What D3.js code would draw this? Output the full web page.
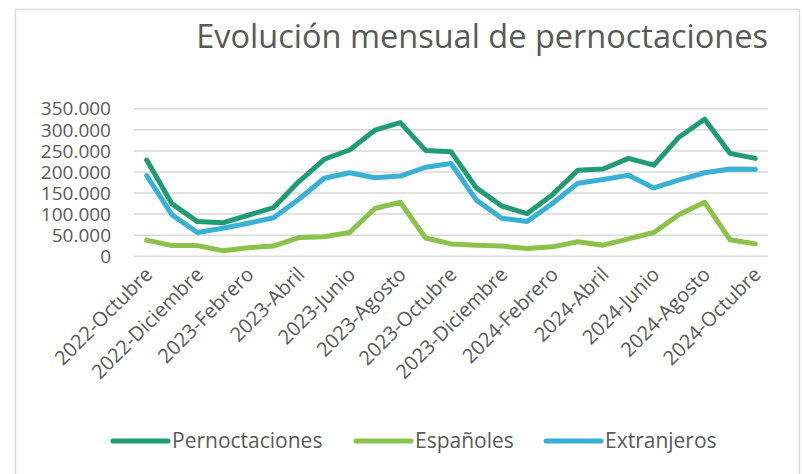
<!DOCTYPE html>
<html>
<head>
<meta charset="utf-8">
<script src="https://cdn.jsdelivr.net/npm/d3@7"></script>
<style>
  body { margin: 0; background: #fff; }
  text { font-family: "Open Sans", Lato, sans-serif; fill: #595959; }
</style>
</head>
<body>
<div id="vis1"></div>
<script>
const months = [
	"2022-Octubre","2022-Noviembre","2022-Diciembre","2023-Enero","2023-Febrero","2023-Marzo",
	"2023-Abril","2023-Mayo","2023-Junio","2023-Julio","2023-Agosto","2023-Septiembre",
	"2023-Octubre","2023-Noviembre","2023-Diciembre","2024-Enero","2024-Febrero","2024-Marzo",
	"2024-Abril","2024-Mayo","2024-Junio","2024-Julio","2024-Agosto","2024-Septiembre","2024-Octubre"
];
const pernoctaciones = [227000,123000,81000,78000,96000,114000,176000,229000,251000,298000,316000,250000,
	247000,161000,118000,100000,145000,203000,206000,231000,215000,282000,324000,243000,231000];
const espanoles = [37000,24000,24000,12000,19000,23000,43000,45000,55000,112000,127000,42000,
	28000,25000,23000,17000,21000,33000,25000,40000,55000,98000,127000,38000,28000];
const extranjeros = [190000,97000,55000,65000,77000,90000,134000,184000,197000,185000,189000,210000,
	219000,132000,89000,81000,124000,172000,181000,191000,161000,180000,197000,206000,205000];
const yTicks = [0,50000,100000,150000,200000,250000,300000,350000];

const series = [
	{name: "Pernoctaciones", values: pernoctaciones, color: "#1f9c74"},
	{name: "Españoles", values: espanoles, color: "#8bc34a"},
	{name: "Extranjeros", values: extranjeros, color: "#39b0d5"}
];

const width = 802, height = 474;
const margin = {top: 108.3, right: 34, bottom: 218.3, left: 134};

const svg = d3.select('#vis1')
	.append('svg')
		.attr("width", width)
		.attr("height", height);

// marco del gráfico
svg.append("rect")
	.attr("x", 15.5).attr("y", 9.5)
	.attr("width", 784).attr("height", 480)
	.attr("fill", "none")
	.attr("stroke", "#d9d9d9")
	.attr("stroke-width", 1.5);

svg.append("text")
	.attr("x", 768).attr("y", 48)
	.attr("text-anchor", "end")
	.style("font-size", "32.5px")
	.text("Evolución mensual de pernoctaciones");

const x = d3.scaleBand()
	.domain(months)
	.range([margin.left, width - margin.right]);

const y = d3.scaleLinear()
	.domain([0, 350000])
	.range([height - margin.bottom, margin.top]);

const fmt = d3.formatLocale({decimal: ",", thousands: ".", grouping: [3], currency: ["", "€"]}).format(",");

// rejilla y eje Y
const yAxis = svg.append("g")
	.attr("transform", `translate(${margin.left},0)`)
	.call(d3.axisLeft(y).tickValues(yTicks).tickFormat(fmt).tickSize(-(width - margin.left - margin.right)).tickPadding(23));
yAxis.select(".domain").remove();
yAxis.selectAll(".tick line").attr("stroke", "#d9d9d9").attr("stroke-width", 1.5);
yAxis.selectAll(".tick text")
	.style("font-size", "19px")
	.attr("fill", "#595959")
	.attr("dy", "0.35em");

// eje X
const xAxis = svg.append("g")
	.attr("transform", `translate(0,${height - margin.bottom})`)
	.call(d3.axisBottom(x).tickValues(months.filter((d, i) => i % 2 === 0)).tickSize(0));
xAxis.select(".domain").remove();
xAxis.selectAll(".tick text")
	.style("font-size", "20px")
	.attr("fill", "#595959")
	.attr("text-anchor", "end")
	.attr("dy", null)
	.attr("y", 0)
	.attr("transform", "translate(7,20)rotate(-45)");

const line = d3.line()
	.x((d, i) => x(months[i]) + x.bandwidth() / 2)
	.y(d => y(d));

svg.selectAll(".serie")
	.data(series)
	.join("path")
		.attr("class", "serie")
		.attr("d", d => line(d.values))
		.attr("fill", "none")
		.attr("stroke", d => d.color)
		.attr("stroke-width", 5)
		.attr("stroke-linejoin", "round")
		.attr("stroke-linecap", "round");

// leyenda
const legendX = [113, 356, 546];
const legend = svg.selectAll(".leg")
	.data(series)
	.join("g")
		.attr("class", "leg")
		.attr("transform", (d, i) => `translate(${legendX[i]},441)`);
legend.append("line")
	.attr("x1", 0).attr("x2", 55)
	.attr("stroke", d => d.color)
	.attr("stroke-width", 5)
	.attr("stroke-linecap", "round");
legend.append("text")
	.attr("x", 59)
	.attr("dy", "0.35em")
	.style("font-size", "21px")
	.text(d => d.name);
</script>
</body>
</html>
